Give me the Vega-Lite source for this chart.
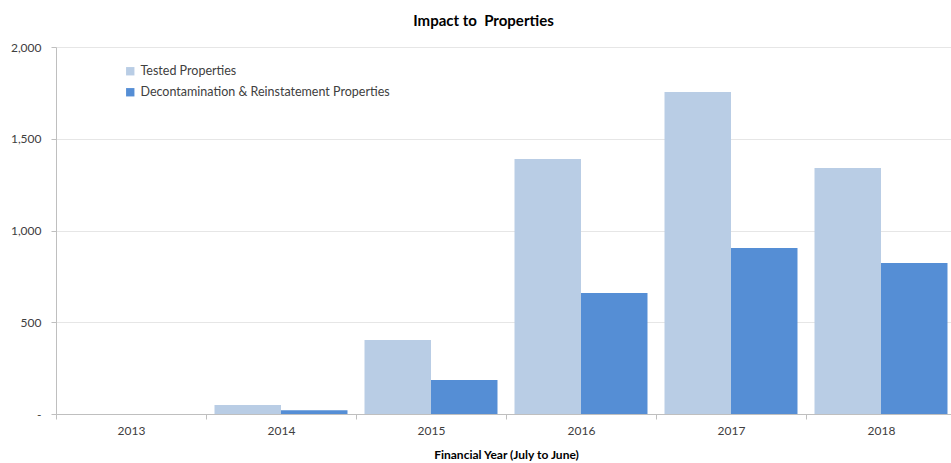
{
  "$schema": "https://vega.github.io/schema/vega-lite/v6.json",
  "width": 895,
  "height": 367,
  "autosize": {"type": "none"},
  "padding": {"left": 56, "top": 47, "right": 0, "bottom": 49},
  "background": "white",
  "title": {
    "text": "Impact to\u00a0 Properties",
    "font": "Lato",
    "fontSize": 15,
    "fontWeight": "bold",
    "color": "#000000",
    "anchor": "middle",
    "dx": -20,
    "offset": 12
  },
  "data": {
    "values": [
      {"year": "2013", "series": "Tested Properties", "value": 0},
      {"year": "2013", "series": "Decontamination & Reinstatement Properties", "value": 0},
      {"year": "2014", "series": "Tested Properties", "value": 49},
      {"year": "2014", "series": "Decontamination & Reinstatement Properties", "value": 21},
      {"year": "2015", "series": "Tested Properties", "value": 403},
      {"year": "2015", "series": "Decontamination & Reinstatement Properties", "value": 185},
      {"year": "2016", "series": "Tested Properties", "value": 1390},
      {"year": "2016", "series": "Decontamination & Reinstatement Properties", "value": 659},
      {"year": "2017", "series": "Tested Properties", "value": 1755},
      {"year": "2017", "series": "Decontamination & Reinstatement Properties", "value": 905},
      {"year": "2018", "series": "Tested Properties", "value": 1341},
      {"year": "2018", "series": "Decontamination & Reinstatement Properties", "value": 823}
    ]
  },
  "mark": {"type": "bar"},
  "encoding": {
    "x": {
      "field": "year",
      "type": "nominal",
      "scale": {"range": [0, 900], "paddingInner": 0, "paddingOuter": 0},
      "axis": {
        "title": "Financial Year (July to June)",
        "titleFont": "Lato",
        "titleFontSize": 12,
        "titleFontWeight": "bold",
        "titleColor": "#000000",
        "titlePadding": 13,
        "labelAngle": 0,
        "labelFont": "Lato",
        "labelFontSize": 12,
        "labelColor": "#404040",
        "labelPadding": 6,
        "tickBand": "extent",
        "tickSize": 5,
        "tickColor": "#bfbfbf",
        "domainColor": "#bfbfbf",
        "grid": false
      }
    },
    "xOffset": {
      "field": "series",
      "type": "nominal",
      "sort": ["Tested Properties", "Decontamination & Reinstatement Properties"],
      "scale": {"paddingInner": 0, "paddingOuter": 0.128}
    },
    "y": {
      "field": "value",
      "type": "quantitative",
      "scale": {"domain": [0, 2000]},
      "axis": {
        "title": null,
        "values": [0, 500, 1000, 1500, 2000],
        "labelExpr": "datum.value == 0 ? '-' : format(datum.value, ',')",
        "labelFont": "Lato",
        "labelFontSize": 12,
        "labelColor": "#404040",
        "labelPadding": 10,
        "tickSize": 5,
        "tickColor": "#bfbfbf",
        "domainColor": "#bfbfbf",
        "gridColor": "#e6e6e6"
      }
    },
    "color": {
      "field": "series",
      "type": "nominal",
      "sort": ["Tested Properties", "Decontamination & Reinstatement Properties"],
      "scale": {
        "domain": ["Tested Properties", "Decontamination & Reinstatement Properties"],
        "range": ["#B9CDE5", "#558ED5"]
      },
      "legend": {
        "title": null,
        "orient": "none",
        "legendX": 68,
        "legendY": 18,
        "symbolType": "square",
        "symbolSize": 70,
        "symbolStrokeWidth": 0,
        "labelFont": "Lato",
        "labelFontSize": 12.5,
        "labelLimit": 0,
        "labelColor": "#404040",
        "rowPadding": 8
      }
    }
  },
  "config": {"view": {"stroke": null}}
}
